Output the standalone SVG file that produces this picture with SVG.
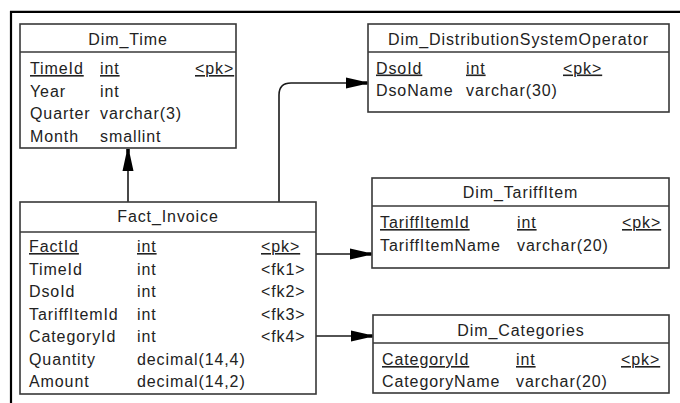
<svg xmlns="http://www.w3.org/2000/svg" width="680" height="403" viewBox="0 0 680 403">
  <style>
    .box { fill: #ffffff; stroke: #383838; stroke-width: 1.6; }
    .sep { stroke: #383838; stroke-width: 1.4; }
    .frame { stroke: #000000; stroke-width: 2.2; fill: none; }
    text { font-family: "Liberation Sans", Arial, sans-serif; font-size: 16px; fill: #222222; letter-spacing: 0.9px; }
    .title { text-anchor: middle; }
    .pk { text-decoration: underline; }
    .conn { fill: none; stroke: #1a1a1a; stroke-width: 1.6; }
  </style>
  <defs>
    <marker id="arr" markerUnits="userSpaceOnUse" markerWidth="24" markerHeight="14" viewBox="0 -7 24 14" refX="22" refY="0" orient="auto">
      <path d="M0,-5.5 L17,-1.8 L22,-1.8 L22,1.8 L17,1.8 L0,5.5 Z" fill="#000000"/>
    </marker>
  </defs>
  <rect x="0" y="0" width="680" height="403" fill="#ffffff"/>
  <path class="frame" d="M11,403 V11.8 H680"/>

  <g id="connectors">
    <path class="conn" d="M128,202 V149" marker-end="url(#arr)"/>
    <path class="conn" d="M279,202 V95 Q279,83 291,83 H367.5" marker-end="url(#arr)"/>
    <path class="conn" d="M316,254 H371.5" marker-end="url(#arr)"/>
    <path class="conn" d="M316,336 H372.5" marker-end="url(#arr)"/>
  </g>

  <g id="Dim_Time">
    <rect class="box" x="20" y="24" width="216" height="124"/>
    <line class="sep" x1="20" y1="52" x2="236" y2="52"/>
    <text class="title" x="128" y="45">Dim_Time</text>
    <text class="pk" x="30" y="74">TimeId</text>
    <text class="pk" x="100" y="74">int</text>
    <text class="pk" x="195" y="74">&lt;pk&gt;</text>
    <text x="30" y="96.6">Year</text>
    <text x="100" y="96.6">int</text>
    <text x="30" y="119.2">Quarter</text>
    <text x="100" y="119.2">varchar(3)</text>
    <text x="30" y="141.8">Month</text>
    <text x="100" y="141.8">smallint</text>
  </g>

  <g id="Dim_DistributionSystemOperator">
    <rect class="box" x="368" y="24" width="301" height="88"/>
    <line class="sep" x1="368" y1="52" x2="669" y2="52"/>
    <text class="title" x="518.5" y="45">Dim_DistributionSystemOperator</text>
    <text class="pk" x="376" y="73.5">DsoId</text>
    <text class="pk" x="466" y="73.5">int</text>
    <text class="pk" x="563" y="73.5">&lt;pk&gt;</text>
    <text x="376" y="96.2">DsoName</text>
    <text x="466" y="96.2">varchar(30)</text>
  </g>

  <g id="Fact_Invoice">
    <rect class="box" x="20" y="202" width="296" height="192"/>
    <line class="sep" x1="20" y1="232" x2="316" y2="232"/>
    <text class="title" x="168" y="222">Fact_Invoice</text>
    <text class="pk" x="29" y="252">FactId</text>
    <text class="pk" x="137" y="252">int</text>
    <text class="pk" x="261" y="252">&lt;pk&gt;</text>
    <text x="29" y="274.5">TimeId</text>
    <text x="137" y="274.5">int</text>
    <text x="261" y="274.5">&lt;fk1&gt;</text>
    <text x="29" y="297">DsoId</text>
    <text x="137" y="297">int</text>
    <text x="261" y="297">&lt;fk2&gt;</text>
    <text x="29" y="319.5">TariffItemId</text>
    <text x="137" y="319.5">int</text>
    <text x="261" y="319.5">&lt;fk3&gt;</text>
    <text x="29" y="342">CategoryId</text>
    <text x="137" y="342">int</text>
    <text x="261" y="342">&lt;fk4&gt;</text>
    <text x="29" y="364.5">Quantity</text>
    <text x="137" y="364.5">decimal(14,4)</text>
    <text x="29" y="387">Amount</text>
    <text x="137" y="387">decimal(14,2)</text>
  </g>

  <g id="Dim_TariffItem">
    <rect class="box" x="372" y="178" width="297" height="90"/>
    <line class="sep" x1="372" y1="206" x2="669" y2="206"/>
    <text class="title" x="520.5" y="198">Dim_TariffItem</text>
    <text class="pk" x="380" y="228">TariffItemId</text>
    <text class="pk" x="517" y="228">int</text>
    <text class="pk" x="622" y="228">&lt;pk&gt;</text>
    <text x="380" y="251">TariffItemName</text>
    <text x="517" y="251">varchar(20)</text>
  </g>

  <g id="Dim_Categories">
    <rect class="box" x="373" y="315" width="296" height="78"/>
    <line class="sep" x1="373" y1="343" x2="669" y2="343"/>
    <text class="title" x="521" y="335.5">Dim_Categories</text>
    <text class="pk" x="382" y="365">CategoryId</text>
    <text class="pk" x="516" y="365">int</text>
    <text class="pk" x="621" y="365">&lt;pk&gt;</text>
    <text x="382" y="387">CategoryName</text>
    <text x="516" y="387">varchar(20)</text>
  </g>
</svg>
